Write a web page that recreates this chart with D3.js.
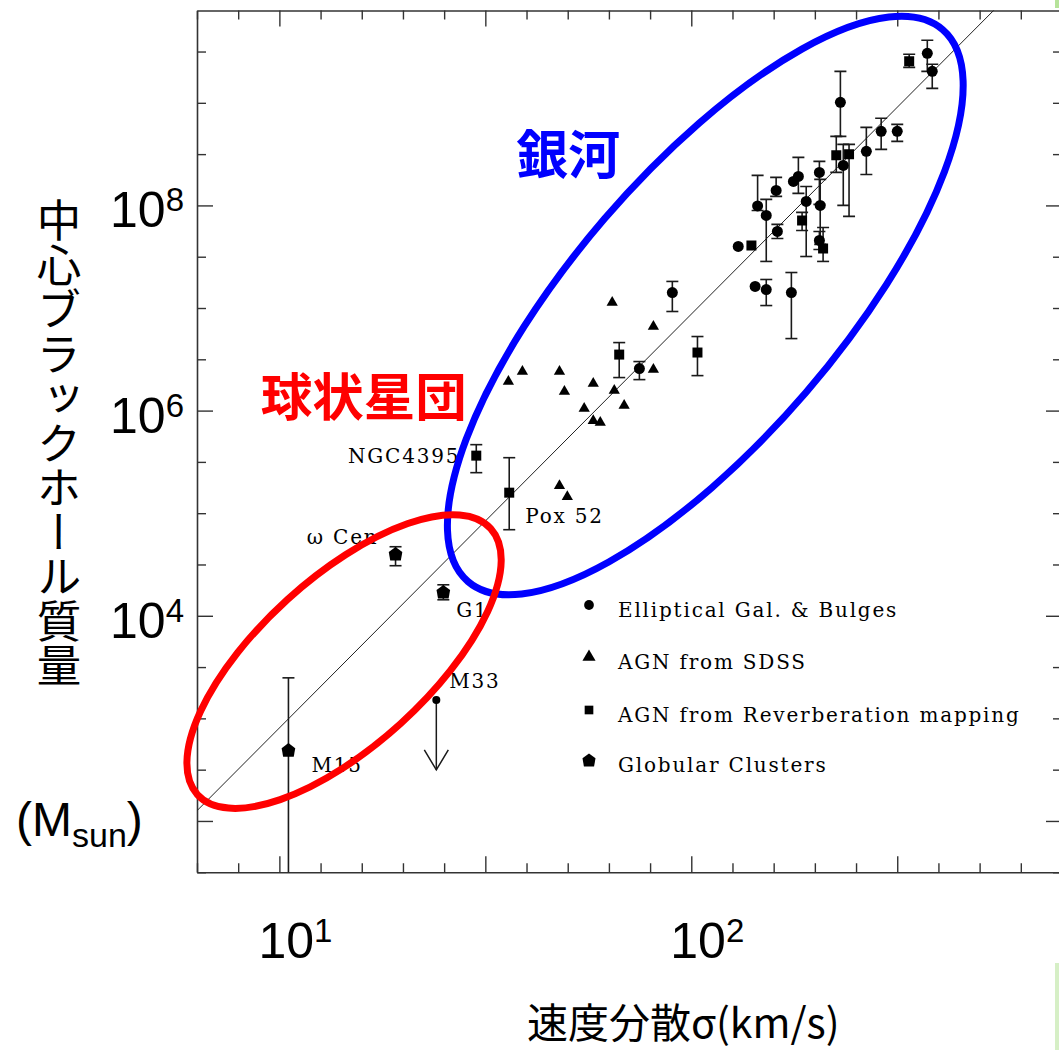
<!DOCTYPE html>
<html>
<head>
<meta charset="utf-8">
<script src="https://cdn.jsdelivr.net/npm/d3@7"></script>
<style>
  html, body { margin: 0; padding: 0; background: #fff; }
  svg { display: block; }
  .jp { font-family: "Noto Sans CJK JP", sans-serif; }
  .num { font-family: "Liberation Sans", Arial, sans-serif; fill: #000; }
  .pg { font-family: "DejaVu Serif", serif; font-size: 20px; letter-spacing: 1.8px; fill: #000; }
</style>
</head>
<body>
<svg id="chart" width="1059" height="1050"></svg>
<script>
'use strict';

// ---- data (all values are log10: sigma in km/s, mass in M_sun) ----
const legendLabels = [
  'Elliptical Gal. & Bulges',
  'AGN from SDSS',
  'AGN from Reverberation mapping',
  'Globular Clusters'
];

// Elliptical galaxies & bulges (circles)
const ellSigma = [2.573, 2.585, 2.362, 2.461, 2.500, 2.425, 2.369, 2.311, 2.260, 2.248, 2.206, 2.161,
  2.182, 2.279, 2.313, 2.209, 2.114, 2.311, 2.155, 2.182, 2.243, 1.954, 1.874];
const ellMass = [9.483, 9.307, 9.005, 8.722, 8.722, 8.527, 8.390, 8.322, 8.283, 8.234, 8.146, 7.995,
  7.902, 8.039, 8.000, 7.746, 7.600, 7.659, 7.210, 7.180, 7.151, 7.151, 6.410];
const ellLo = [9.307, 9.141, 8.673, 8.546, 8.624, 8.302, 8.000, 8.010, 8.117, null, 8.088, 7.951,
  7.454, 7.502, 7.620, 7.678, null, 7.571, null, 7.024, 6.702, 6.966, 6.302];
const ellHi = [9.610, 9.376, 9.307, 8.849, 8.790, 8.761, 8.595, 8.429, 8.468, null, 8.273, 8.293,
  8.059, 8.185, 8.254, 7.815, null, 7.746, null, 7.278, 7.346, 7.259, 6.478];

// AGN from SDSS (triangles)
const sdssSigma = [1.556, 1.590, 1.680, 1.692, 1.762, 1.808, 1.813, 1.837, 1.740, 1.762, 1.779, 1.908, 1.908, 1.680, 1.699];
const sdssMass = [6.283, 6.380, 6.380, 6.185, 6.263, 7.054, 6.195, 6.049, 6.020, 5.902, 5.883, 6.820, 6.400, 5.268, 5.161];

// AGN from reverberation mapping (squares)
const rmNames = ['', '', '', '', '', '', '', '', 'NGC4395', 'Pox 52'];
const rmSigma = [2.529, 2.352, 2.383, 2.269, 2.146, 2.320, 2.015, 1.825, 1.478, 1.558];
const rmMass = [9.405, 8.488, 8.498, 7.854, 7.610, 7.580, 6.566, 6.546, 5.561, 5.200];
const rmLo = [9.346, 8.322, 7.893, 7.756, null, 7.454, 6.341, 6.322, 5.395, 4.839];
const rmHi = [9.473, 8.673, 8.595, 7.932, null, 7.785, 6.722, 6.663, 5.668, 5.541];

// Globular clusters
const gcNames = ['ω Cen', 'G1', 'M15'];
const gcSigma = [1.282, 1.398, 1.022];
const gcMass = [4.605, 4.234, 2.693];
const gcLo = [4.488, 4.156, 1.0];
const gcHi = [4.673, 4.302, 3.395];

// M33 upper limit
const limitNames = ['M33'];
const limitSigma = [1.381];
const limitMass = [3.180];

// M-sigma fit line (two ends)
const fitSigma = [0.8, 2.9];
const fitMass = [2.10, 10.57];

// axis labels
const xLabelExp = [1, 2];
const yLabelExp = [8, 6, 4];

// region annotations (data coords)
const regionText = ['銀河', '球状星団'];
const regionSigma = [1.575, 0.955];
const regionMass = [8.31, 5.95];
const ringSigma = [2.034, 1.157];
const ringMass = [7.024, 3.554];

// ---- layout ----
const ink = '#333';
const frame = { left: 197, right: 1062, top: 10.5, bottom: 872.25 };
const svg = d3.select('#chart');

const x = d3.scaleLinear().domain([0.8, 2.9]).range([frame.left, frame.right]);
const y = d3.scaleLinear().domain([1.5, 9.9]).range([frame.bottom, frame.top]);

svg.append('rect').attr('width', 1059).attr('height', 1050).attr('fill', '#fff');
svg.append('defs').append('clipPath').attr('id', 'plot-clip').append('rect')
  .attr('x', frame.left).attr('y', frame.top)
  .attr('width', frame.right - frame.left).attr('height', frame.bottom - frame.top);

// slide decoration at the right edge
svg.append('rect').attr('x', 1055).attr('y', 0).attr('width', 4).attr('height', 8).attr('fill', '#b6e39a');
svg.append('rect').attr('x', 1055).attr('y', 963).attr('width', 4).attr('height', 87).attr('fill', '#d6efc6');

// ---- frame with PGPLOT style ticks ----
const xTicks = d3.range(8, 30).map(d => d / 10);
const yTicks = d3.range(3, 20).map(d => d / 2);
const xMajor = d => Math.round(d * 10) % 5 === 0;
const yMajor = d => Math.round(d * 2) % 4 === 0;

function frameAxis(axis, transform, attr, sign, isMajor) {
  const g = svg.append('g').attr('transform', transform)
    .call(axis.tickSizeInner(0).tickSizeOuter(0).tickFormat(''));
  g.select('.domain').attr('stroke', ink).attr('stroke-width', 1.6);
  g.selectAll('.tick line')
    .attr(attr, d => sign * (isMajor(d) ? 16 : 9))
    .attr('stroke', ink).attr('stroke-width', 1.4);
}
frameAxis(d3.axisBottom(x).tickValues(xTicks), `translate(0,${frame.bottom})`, 'y2', -1, xMajor);
frameAxis(d3.axisTop(x).tickValues(xTicks), `translate(0,${frame.top})`, 'y2', 1, xMajor);
frameAxis(d3.axisLeft(y).tickValues(yTicks), `translate(${frame.left},0)`, 'x2', 1, yMajor);
frameAxis(d3.axisRight(y).tickValues(yTicks), `translate(${frame.right},0)`, 'x2', -1, yMajor);

// ---- tick labels ----
xLabelExp.forEach(e => {
  const t = svg.append('text').attr('class', 'num')
    .attr('x', x(e) - 21).attr('y', 958).style('font-size', '50px');
  t.append('tspan').text('10');
  t.append('tspan').attr('dy', -16).style('font-size', '33px').text(e);
});
yLabelExp.forEach(e => {
  const t = svg.append('text').attr('class', 'num')
    .attr('x', 184).attr('y', y(e) + 22).attr('text-anchor', 'end').style('font-size', '50px');
  t.append('tspan').text('10');
  t.append('tspan').attr('dy', -16).style('font-size', '33px').text(e);
});

// ---- axis titles ----
svg.append('text').attr('class', 'jp')
  .attr('x', 59).attr('y', 198)
  .style('writing-mode', 'vertical-rl')
  .style('font-size', '44.5px')
  .text('中心ブラックホール質量');

const unit = svg.append('text').attr('class', 'num').attr('x', 16).attr('y', 836).style('font-size', '48px');
unit.append('tspan').text('(M');
unit.append('tspan').attr('dy', 11).style('font-size', '34px').text('sun');
unit.append('tspan').attr('dy', -11).text(')');

svg.append('text').attr('class', 'jp')
  .attr('x', 527).attr('y', 1038).style('font-size', '41px')
  .text('速度分散σ(km/s)');

// ---- data layer ----
const plot = svg.append('g').attr('clip-path', 'url(#plot-clip)');

plot.append('path')
  .datum(fitSigma.map((s, i) => [s, fitMass[i]]))
  .attr('d', d3.line().x(d => x(d[0])).y(d => y(d[1])))
  .attr('fill', 'none').attr('stroke', '#222').attr('stroke-width', 1);

const points = [];
ellSigma.forEach((s, i) => points.push({ type: 'ell', s, m: ellMass[i], lo: ellLo[i], hi: ellHi[i] }));
sdssSigma.forEach((s, i) => points.push({ type: 'sdss', s, m: sdssMass[i], lo: null, hi: null }));
rmSigma.forEach((s, i) => points.push({ type: 'rm', s, m: rmMass[i], lo: rmLo[i], hi: rmHi[i], name: rmNames[i] }));
gcSigma.forEach((s, i) => points.push({ type: 'gc', s, m: gcMass[i], lo: gcLo[i], hi: gcHi[i], name: gcNames[i] }));

const symbolHouse = {
  draw(ctx, size) {
    const r = Math.sqrt(size) * 0.62;
    ctx.moveTo(0, -r);
    ctx.lineTo(r, -r * 0.25);
    ctx.lineTo(r * 0.78, r);
    ctx.lineTo(-r * 0.78, r);
    ctx.lineTo(-r, -r * 0.25);
    ctx.closePath();
  }
};
const symbolOf = {
  ell: d3.symbol().type(d3.symbolCircle).size(95),
  sdss: d3.symbol().type(d3.symbolTriangle).size(55),
  rm: d3.symbol().type(d3.symbolSquare).size(100),
  gc: d3.symbol().type(symbolHouse).size(120)
};

// error bars
const cap = 6;
const withErr = points.filter(p => p.lo !== null);
const bars = plot.append('g').attr('stroke', '#1a1a1a').attr('stroke-width', 1.6).attr('fill', 'none');
withErr.forEach(p => {
  const px = x(p.s);
  bars.append('line').attr('x1', px).attr('x2', px).attr('y1', y(p.hi)).attr('y2', y(p.lo));
  [p.hi, p.lo].forEach(v => {
    bars.append('line').attr('x1', px - cap).attr('x2', px + cap).attr('y1', y(v)).attr('y2', y(v));
  });
});

plot.append('g').selectAll('path.mark')
  .data(points)
  .join('path')
  .attr('class', 'mark')
  .attr('transform', d => `translate(${x(d.s)},${y(d.m)})`)
  .attr('d', d => symbolOf[d.type]())
  .attr('fill', '#000');

// upper limit (M33)
limitSigma.forEach((s, i) => {
  const px = x(s), py = y(limitMass[i]);
  const g = plot.append('g').attr('stroke', '#1a1a1a').attr('stroke-width', 1.5).attr('fill', 'none');
  g.append('line').attr('x1', px).attr('x2', px).attr('y1', py).attr('y2', py + 70);
  g.append('path').attr('d', `M${px - 12},${py + 50}L${px},${py + 70}L${px + 12},${py + 50}`);
  plot.append('circle').attr('cx', px).attr('cy', py).attr('r', 4).attr('fill', '#000');
});

// object labels
const labelOffsets = {
  'NGC4395': [-16, 7, 'end'],
  'Pox 52': [16, 30, 'start'],
  'ω Cen': [-17, -10, 'end'],
  'G1': [13, 25, 'start'],
  'M15': [23, 22, 'start'],
  'M33': [13, -12, 'start']
};
const named = points.filter(p => p.name)
  .concat(limitSigma.map((s, i) => ({ s, m: limitMass[i], name: limitNames[i] })));
svg.append('g').selectAll('text')
  .data(named)
  .join('text')
  .attr('class', 'pg')
  .attr('x', d => x(d.s) + labelOffsets[d.name][0])
  .attr('y', d => y(d.m) + labelOffsets[d.name][1])
  .attr('text-anchor', d => labelOffsets[d.name][2])
  .text(d => d.name);

// ---- legend ----
const legendTypes = ['ell', 'sdss', 'rm', 'gc'];
const legendRows = [605, 657, 710, 760];
const legend = svg.append('g');
legendTypes.forEach((t, i) => {
  legend.append('path')
    .attr('transform', `translate(589,${legendRows[i]})`)
    .attr('d', d3.symbol().type(
      t === 'ell' ? d3.symbolCircle : t === 'sdss' ? d3.symbolTriangle : t === 'rm' ? d3.symbolSquare : symbolHouse
    ).size(t === 'gc' ? 110 : 75)())
    .attr('fill', '#000');
  legend.append('text').attr('class', 'pg')
    .attr('x', 618).attr('y', legendRows[i] + 12)
    .text(legendLabels[i]);
});

// ---- region rings and labels ----
const ringStyle = [
  { color: '#0000ff', rx: 364, ry: 133, angle: -49.3 },
  { color: '#ff0000', rx: 198, ry: 84, angle: -42.2 }
];
ringSigma.forEach((s, i) => {
  const cx = x(s), cy = y(ringMass[i]), st = ringStyle[i];
  svg.append('ellipse')
    .attr('transform', `translate(${cx},${cy}) rotate(${st.angle})`)
    .attr('rx', st.rx).attr('ry', st.ry)
    .attr('fill', 'none').attr('stroke', st.color).attr('stroke-width', 7);
});
regionText.forEach((t, i) => {
  svg.append('text').attr('class', 'jp')
    .attr('x', x(regionSigma[i])).attr('y', y(regionMass[i]))
    .style('font-size', i === 0 ? '52px' : '51.5px')
    .style('font-weight', 700)
    .attr('fill', ringStyle[i].color)
    .text(t);
});
</script>
</body>
</html>
